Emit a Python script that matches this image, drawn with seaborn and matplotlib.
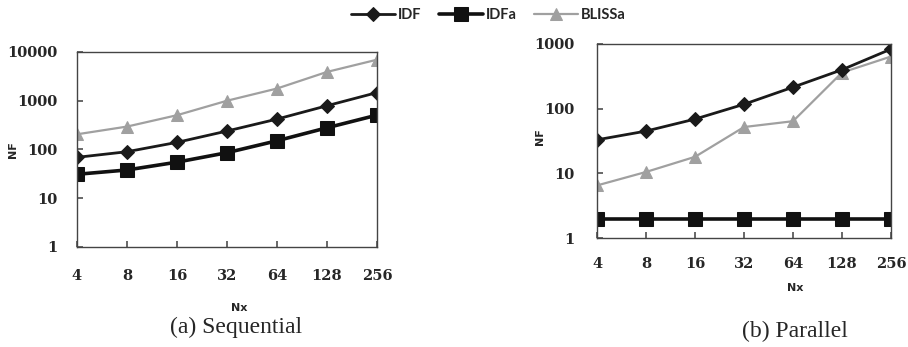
import pandas as pd
import matplotlib.pyplot as plt
import matplotlib.ticker as mticker
import seaborn as sns

# Data
nx = [4, 8, 16, 32, 64, 128, 256]
seq_idf = [69, 90, 140, 239, 420, 790, 1470]
seq_idfa = [31, 38, 55, 86, 151, 279, 507]
seq_bliss = [205, 295, 505, 1000, 1780, 3900, 6950]
par_idf = [33, 45, 69, 117, 215, 400, 835]
par_idfa = [2.0, 2.0, 2.0, 2.0, 2.0, 2.0, 2.0]
par_bliss = [6.5, 10.5, 18, 52, 64, 362, 640]
series_names = ['IDF', 'IDFa', 'BLISSa']

sns.set_theme(style='white')
plt.rcParams['font.family'] = ['DejaVu Sans']

styles = {
    'IDF': dict(color='#1a1a1a', marker='D', markersize=7, linewidth=2.0),
    'IDFa': dict(color='#111111', marker='s', markersize=10, linewidth=2.6),
    'BLISSa': dict(color='#a0a0a0', marker='^', markersize=8, linewidth=1.6),
}

fig = plt.figure(figsize=(9.08, 3.47), dpi=100)
ax1 = fig.add_axes([0.0848, 0.2882, 0.3304, 0.5620])
ax2 = fig.add_axes([0.6575, 0.3141, 0.3238, 0.5591])


def draw(ax, vals, ymax, xpad, ypad):
    df = pd.DataFrame({'Nx': nx * 3,
                       'NF': vals[0] + vals[1] + vals[2],
                       'series': sum([[s] * len(nx) for s in series_names], [])})
    for s in ['BLISSa', 'IDFa', 'IDF']:
        st = styles[s]
        sns.lineplot(data=df[df['series'] == s], x='Nx', y='NF', ax=ax,
                     color=st['color'], marker=st['marker'], markersize=st['markersize'],
                     linewidth=st['linewidth'], markeredgecolor=st['color'], label=s,
                     legend=False)
    ax.set_xscale('log', base=2)
    ax.set_yscale('log')
    ax.set_xlim(4, 256)
    ax.set_ylim(1, ymax)
    ax.set_xticks(nx)
    ax.xaxis.set_major_formatter(mticker.FuncFormatter(lambda v, p: '%d' % v))
    ax.xaxis.set_minor_locator(mticker.NullLocator())
    ax.yaxis.set_minor_locator(mticker.NullLocator())
    ax.yaxis.set_major_formatter(mticker.FuncFormatter(lambda v, p: '%d' % v))
    ax.tick_params(axis='x', direction='in', length=4, color='#555555', pad=xpad, bottom=True)
    ax.tick_params(axis='y', direction='in', length=4, color='#555555', pad=ypad, left=True)
    for lab in ax.get_xticklabels() + ax.get_yticklabels():
        lab.set_fontfamily('DejaVu Serif')
        lab.set_fontweight('bold')
        lab.set_fontsize(10.5)
    for sp in ax.spines.values():
        sp.set_color('#444444')
        sp.set_linewidth(1.0)
    ax.set_xlabel('')
    ax.set_ylabel('')


draw(ax1, [seq_idf, seq_idfa, seq_bliss], 10000, 16, 14)
draw(ax2, [par_idf, par_idfa, par_bliss], 1000, 14, 16)

# axis titles
fig.text(13 / 908, 1 - 150 / 347, 'NF', rotation=90, ha='center', va='center',
         fontsize=8, fontweight='bold')
fig.text(540 / 908, 1 - 137 / 347, 'NF', rotation=90, ha='center', va='center',
         fontsize=8, fontweight='bold')
fig.text(239 / 908, 1 - 308 / 347, 'Nx', ha='center', va='center', fontsize=8, fontweight='bold')
fig.text(795 / 908, 1 - 288 / 347, 'Nx', ha='center', va='center', fontsize=8, fontweight='bold')

# captions
fig.text(236 / 908, 1 - 327 / 347, '(a) Sequential', ha='center', va='center',
         fontsize=17, family='Liberation Serif')
fig.text(795 / 908, 1 - 331 / 347, '(b) Parallel', ha='center', va='center',
         fontsize=17, family='Liberation Serif')

handles, labels = ax1.get_legend_handles_labels()
order = [labels.index(s) for s in series_names]
leg = fig.legend([handles[i] for i in order], [labels[i] for i in order],
                 loc='center', bbox_to_anchor=(0.538, 1 - 15 / 347), ncol=3, frameon=False,
                 handlelength=3.0, handletextpad=0.2, columnspacing=1.2,
                 prop={'family': 'Lato', 'weight': 'bold', 'size': 10.5})

fig.savefig('out.png', dpi=100)
